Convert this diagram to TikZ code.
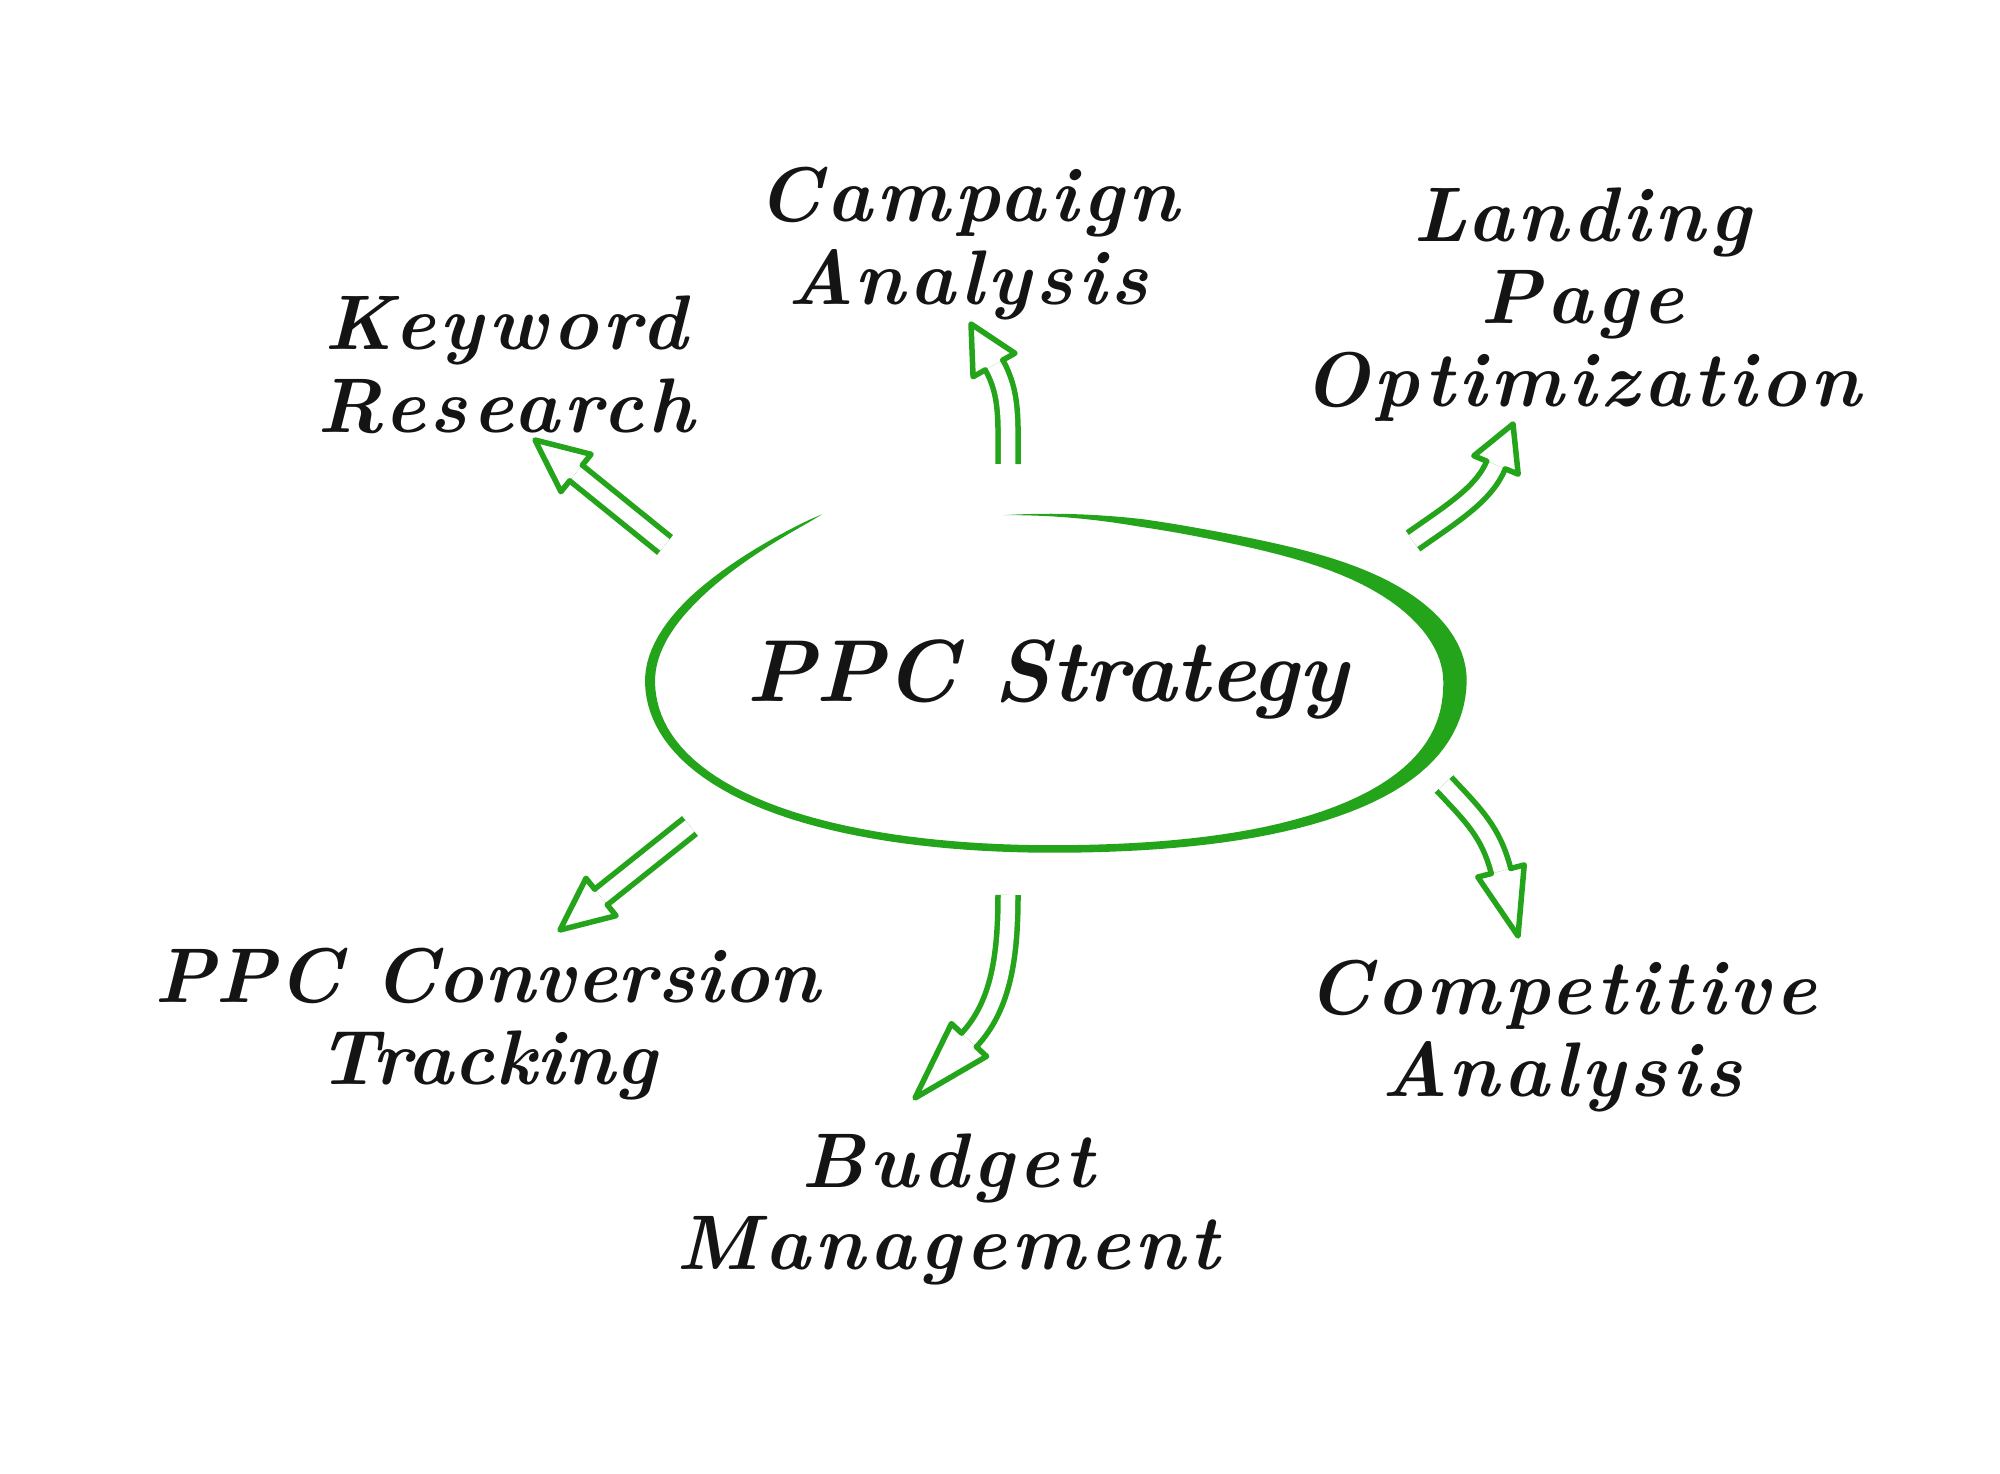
\documentclass[tikz,border=0pt]{standalone}
\usepackage{fontspec}
\usetikzlibrary{calc}
\newfontfamily\handfont{Latin Modern Roman}
\definecolor{ppcgreen}{RGB}{36,164,26}

\begin{document}
\begin{tikzpicture}[x=0.01cm, y=-0.01cm,
	declare function={
		lf(\t) = max(0,(\t-180)/60);
		rf(\t) = 1 - 0.045*exp(-min(20,((\t+65)/22)*((\t+65)/22)))
			+ (0.05-0.02*(\t>90))*sin(2*\t)*sin(2*\t)*(\t>0)*(\t<180)
			+ 0.145*lf(\t)*lf(\t)*lf(\t);
		wd(\t) = (7.5 + 16*exp(-min(20,((\t+3)/38)*((\t+3)/38)))
			+ 2.5*exp(-min(20,((\t-180)/25)*((\t-180)/25))))
			* max(0,min(1,(\t+97)/20)) * sqrt(max(0,min(1,(240-\t)/32)));
		nr(\t) = sqrt((1.68*cos(\t))*(1.68*cos(\t)) + (4.025*sin(\t))*(4.025*sin(\t)));
		ex(\t,\s) = 1052.5 + cos(\t)*(402.5*rf(\t) + \s*0.5*wd(\t)*1.68/nr(\t));
		ey(\t,\s) = 681 + sin(\t)*(168*rf(\t) + \s*0.5*wd(\t)*4.025/nr(\t));
	},
	topic/.style={anchor=base, align=center, inner sep=0pt, text=black!92,
		font=\handfont\fontsize{22}{23.6}\selectfont\bfseries\itshape\addfontfeatures{LetterSpace=6}},
	shaft/.style={ppcgreen, line width=0.55mm, double=white, double distance=1.45mm},
	tiphead/.style={ppcgreen, line width=0.55mm, line join=round, line cap=round}]
	\def\gap{1mm}
	\def\barb{2.4mm}
	\useasboundingbox (0,0) rectangle (2000,1474);

	% brush ring round the centre, outer edge then inner edge back
	\fill[ppcgreen] plot[domain=-97:240, samples=150] ({ex(\x,1)}, {ey(\x,1)})
		-- plot[domain=240:-97, samples=150] ({ex(\x,-1)}, {ey(\x,-1)}) -- cycle;

	\node[topic, font=\handfont\fontsize{25}{28}\selectfont\bfseries\itshape] (strategy) at (1047,702) {PPC Strategy};

	% anchors sit on the last line
	\node[topic] (keyword) at (506,433) {Keyword\\Research};
	\node[topic] (campaign) at (968,305) {Campaign\\Analysis};
	\node[topic] (landing) at (1582,407) {Landing\\Page\\Optimization};
	\node[topic, font=\handfont\fontsize{22}{23.6}\selectfont\bfseries\itshape\addfontfeatures{LetterSpace=0.5}] (conversion) at (487,1085) {PPC Conversion\\Tracking};
	\node[topic] (budget) at (948,1270) {Budget\\Management};
	\node[topic] (competitive) at (1562,1097) {Competitive\\Analysis};

	% tail, base of head, tip
	\coordinate (kw-t) at (665,545);  \coordinate (kw-b) at (576,473);  \coordinate (kw-h) at (535,440);
	\coordinate (ca-t) at (1008,464); \coordinate (ca-b) at (994,365);  \coordinate (ca-h) at (971,324);
	\coordinate (lp-t) at (1413,541); \coordinate (lp-b) at (1496,465); \coordinate (lp-h) at (1513,424);
	\coordinate (co-t) at (1444,784); \coordinate (co-b) at (1501,871); \coordinate (co-h) at (1518,936);
	\coordinate (cv-t) at (690,826);  \coordinate (cv-b) at (601,897);  \coordinate (cv-h) at (560,930);
	\coordinate (bm-t) at (1008,895); \coordinate (bm-b) at (969,1040); \coordinate (bm-h) at (915,1098);

	\draw[shaft] (kw-t) -- (kw-b);
	\draw[shaft] (cv-t) -- (cv-b);
	\draw[shaft] (ca-t) .. controls (1008,420) and ($(ca-b)!-0.7!(ca-h)$) .. (ca-b);
	\draw[shaft] (lp-t) .. controls (1453,513) and ($(lp-b)!-0.7!(lp-h)$) .. (lp-b);
	\draw[shaft] (co-t) .. controls (1474,816) and ($(co-b)!-0.6!(co-h)$) .. (co-b);
	\draw[shaft] (bm-t) .. controls (1008,955) and ($(bm-b)!-0.6!(bm-h)$) .. (bm-b);

	\foreach \a in {kw,ca,lp,co,cv,bm}{
		\draw[tiphead] ($(\a-b)!\gap!90:(\a-h)$) -- ($(\a-b)!\barb!90:(\a-h)$) -- (\a-h)
			-- ($(\a-b)!\barb!-90:(\a-h)$) -- ($(\a-b)!\gap!-90:(\a-h)$);
	}
\end{tikzpicture}
\end{document}
